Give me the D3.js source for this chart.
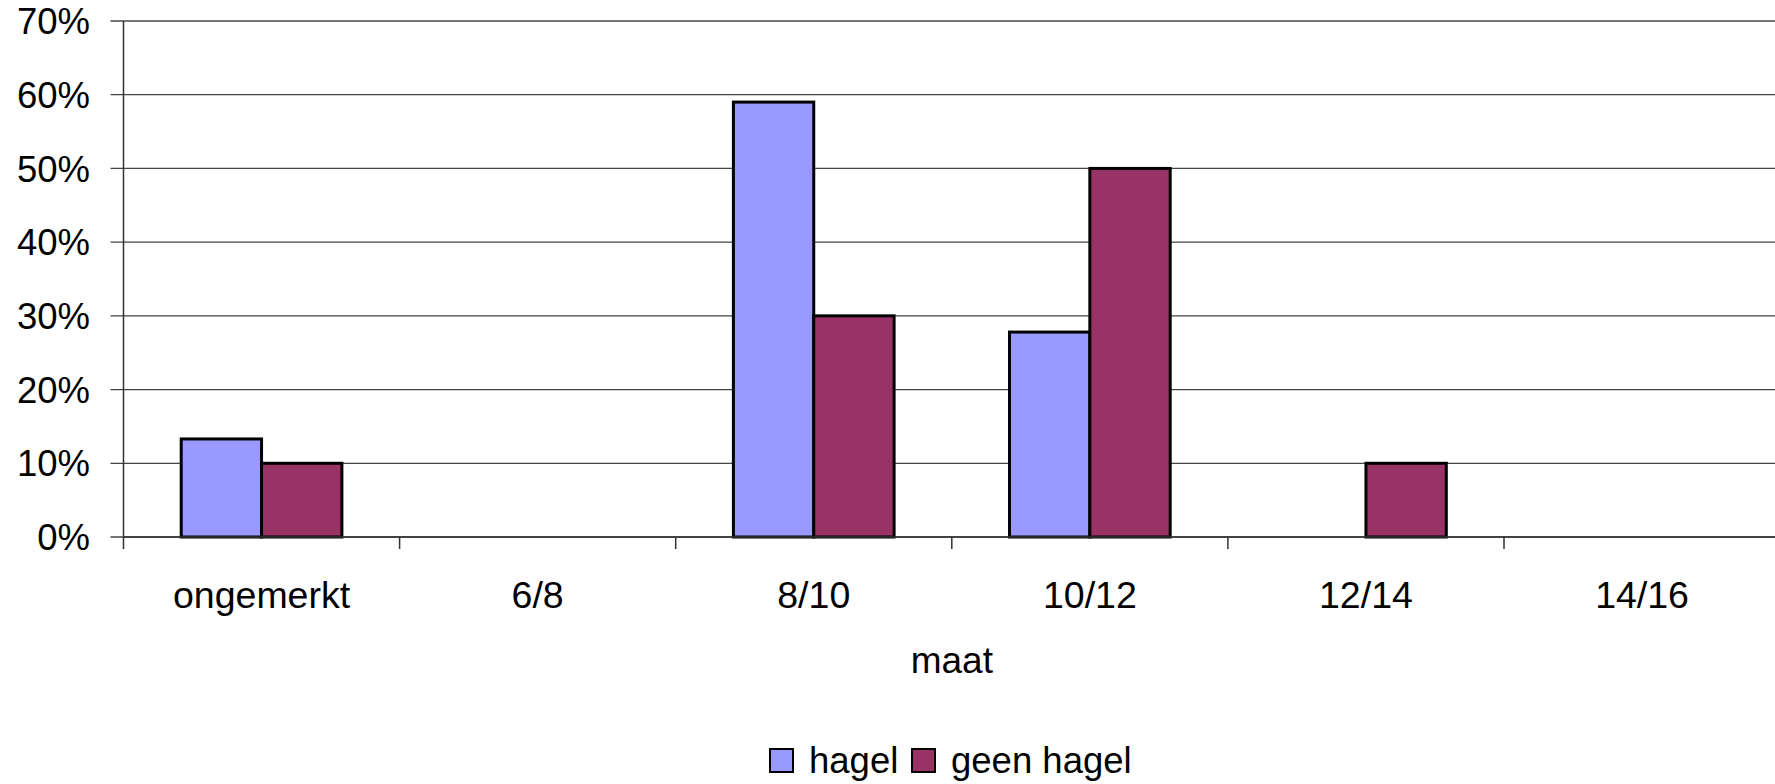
<!DOCTYPE html>
<html>
<head>
<meta charset="utf-8">
<script src="https://cdn.jsdelivr.net/npm/d3@7"></script>
<style>
  body { margin: 0; background: #fff; }
  svg text { font-family: "Liberation Sans", Arial, sans-serif; fill: #000; }
</style>
</head>
<body>
<svg id="chart" width="1775" height="784"></svg>
<script>
// data
const categories = ["ongemerkt", "6/8", "8/10", "10/12", "12/14", "14/16"];
const seriesNames = ["hagel", "geen hagel"];
const hagel = [13.3, 0, 59, 27.8, 0, 0];
const geenHagel = [10, 0, 30, 50, 10, 0];
const yTicks = [0, 10, 20, 30, 40, 50, 60, 70];
const colors = ["#9999FF", "#993366"];

const svg = d3.select("#chart");

const plotLeft = 123.5, plotTop = 21, plotBottom = 537;
const catW = 276.1;

const x = d3.scaleBand()
    .domain(categories)
    .range([plotLeft, plotLeft + catW * categories.length]);

// inner scale for the two bars of a group
const x1 = d3.scaleBand()
    .domain(seriesNames)
    .range([catW * 0.209, catW * 0.791]);

const y = d3.scaleLinear()
    .domain([0, 70])
    .range([plotBottom, plotTop]);

const rows = categories.map((c, i) => ({
    cat: c,
    values: [
        { key: "hagel", v: hagel[i] },
        { key: "geen hagel", v: geenHagel[i] }
    ]
}));

// gridlines
svg.append("g")
    .selectAll("line")
    .data(yTicks)
    .join("line")
    .attr("x1", plotLeft - 13)
    .attr("x2", 1775)
    .attr("y1", d => y(d))
    .attr("y2", d => y(d))
    .attr("stroke", d => d === 70 ? "#777" : "#444")
    .attr("stroke-width", d => d === 70 ? 2 : 1.3);

// y tick labels
svg.append("g")
    .selectAll("text")
    .data(yTicks)
    .join("text")
    .attr("x", 90)
    .attr("y", d => y(d))
    .attr("dy", "0.36em")
    .attr("text-anchor", "end")
    .attr("font-size", 36.5)
    .text(d => d + "%");

// bars
const groups = svg.append("g")
    .selectAll("g")
    .data(rows)
    .join("g")
    .attr("transform", d => `translate(${x(d.cat)},0)`);

groups.selectAll("rect")
    .data(d => d.values.filter(s => s.v > 0))
    .join("rect")
    .attr("x", d => x1(d.key))
    .attr("width", x1.bandwidth())
    .attr("y", d => y(d.v))
    .attr("height", d => y(0) - y(d.v))
    .attr("fill", d => colors[seriesNames.indexOf(d.key)])
    .attr("stroke", "#000")
    .attr("stroke-width", 3);

// y axis line
svg.append("line")
    .attr("x1", plotLeft).attr("x2", plotLeft)
    .attr("y1", plotTop).attr("y2", plotBottom + 12)
    .attr("stroke", "#333")
    .attr("stroke-width", 1.5);

// x axis line
svg.append("line")
    .attr("x1", plotLeft).attr("x2", 1775)
    .attr("y1", plotBottom).attr("y2", plotBottom)
    .attr("stroke", "#333")
    .attr("stroke-width", 1.5);

// category ticks between groups
svg.append("g")
    .selectAll("line")
    .data(categories.slice(1))
    .join("line")
    .attr("x1", d => x(d))
    .attr("x2", d => x(d))
    .attr("y1", plotBottom)
    .attr("y2", plotBottom + 12)
    .attr("stroke", "#333")
    .attr("stroke-width", 1.5);

// category labels
svg.append("g")
    .selectAll("text")
    .data(categories)
    .join("text")
    .attr("x", d => x(d) + x.bandwidth() / 2)
    .attr("y", 608)
    .attr("text-anchor", "middle")
    .attr("font-size", 37.5)
    .text(d => d);

// axis title
svg.append("text")
    .attr("x", plotLeft + catW * 3)
    .attr("y", 673)
    .attr("text-anchor", "middle")
    .attr("font-size", 37)
    .text("maat");

// legend
const legendX = [770, 912];
const legend = svg.append("g")
    .selectAll("g")
    .data(seriesNames)
    .join("g")
    .attr("transform", (d, i) => `translate(${legendX[i]},749)`);

legend.append("rect")
    .attr("width", 23)
    .attr("height", 23)
    .attr("fill", (d, i) => colors[i])
    .attr("stroke", "#000")
    .attr("stroke-width", 2);

legend.append("text")
    .attr("x", 39)
    .attr("y", 24)
    .attr("font-size", 36.5)
    .text(d => d);
</script>
</body>
</html>
